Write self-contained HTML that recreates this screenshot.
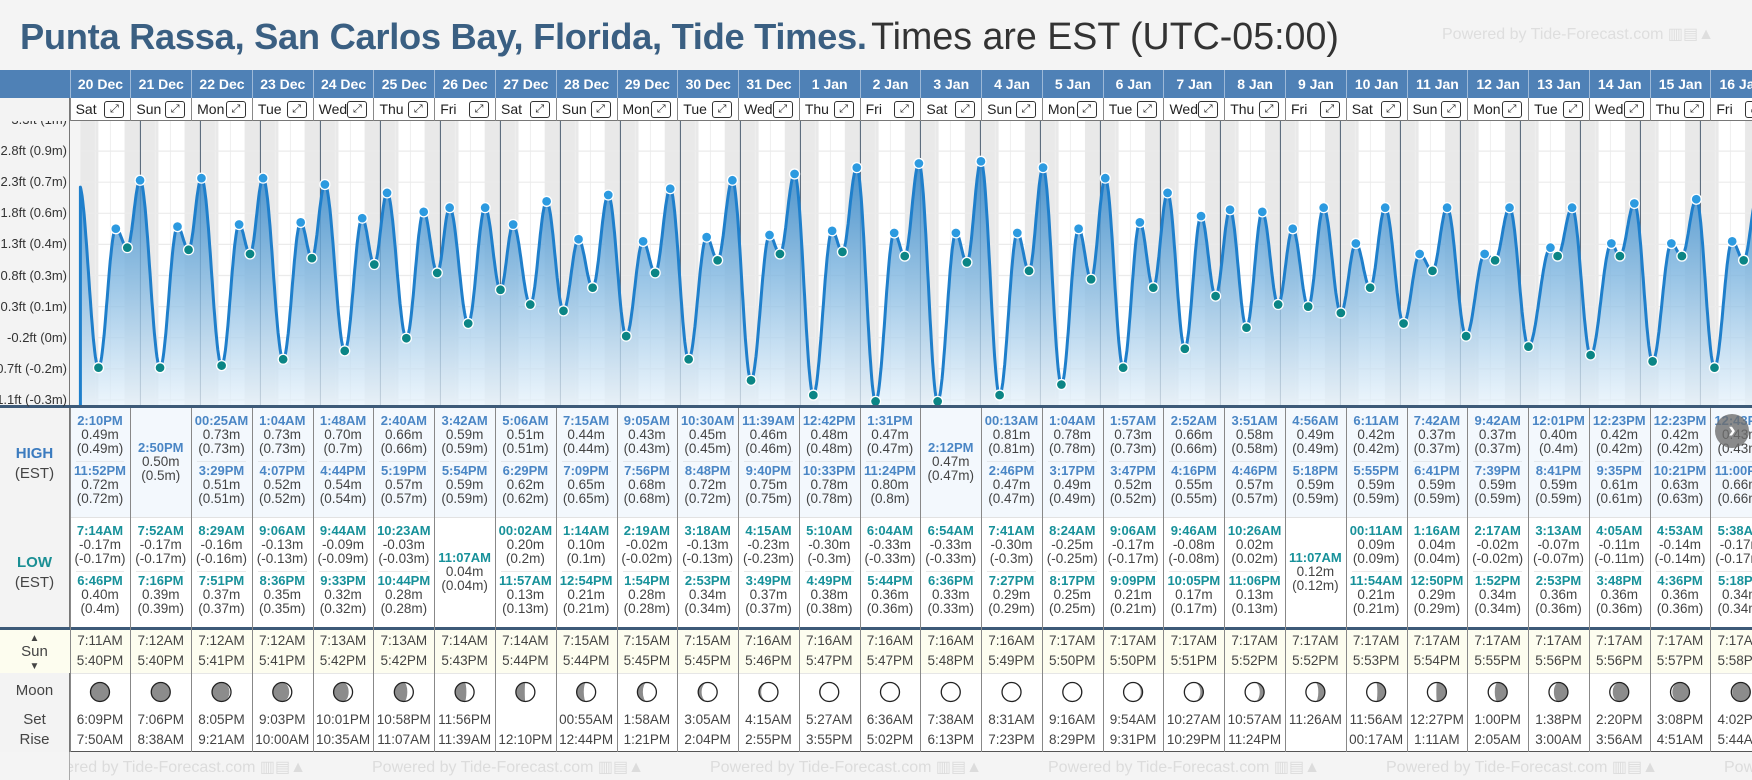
<!DOCTYPE html>
<html><head><meta charset="utf-8">
<style>
body{margin:0;width:1752px;height:780px;overflow:hidden;background:#f4f4f4;font-family:"Liberation Sans",sans-serif;position:relative}
.a{position:absolute;white-space:nowrap}
#root{position:absolute;left:0;top:0;width:1752px;height:780px;overflow:hidden}
</style></head>
<body>
<div id="root"></div>
<div class="a" style="left:20px;top:12px;line-height:48px"><b style="color:#3a5f82;font-size:36.3px;letter-spacing:-0.3px">Punta Rassa, San Carlos Bay, Florida, Tide Times.</b> <span style="color:#333;font-size:37.6px">Times are EST (UTC-05:00)</span></div>
<div class="a" style="left:1442px;top:24px;font-size:16px;color:#dedede">Powered by Tide-Forecast.com ▥▤▲</div>
<svg id="chart" class="a" style="left:0;top:0" width="1752" height="780"></svg>
<script>
const days=['20 Dec','21 Dec','22 Dec','23 Dec','24 Dec','25 Dec','26 Dec','27 Dec','28 Dec','29 Dec','30 Dec','31 Dec','1 Jan','2 Jan','3 Jan','4 Jan','5 Jan','6 Jan','7 Jan','8 Jan','9 Jan','10 Jan','11 Jan','12 Jan','13 Jan','14 Jan','15 Jan','16 Jan'];
const dows=['Sat','Sun','Mon','Tue','Wed','Thu','Fri','Sat','Sun','Mon','Tue','Wed','Thu','Fri','Sat','Sun','Mon','Tue','Wed','Thu','Fri','Sat','Sun','Mon','Tue','Wed','Thu','Fri'];
const highTimes=[['2:10PM','11:52PM'],['2:50PM'],['00:25AM','3:29PM'],['1:04AM','4:07PM'],['1:48AM','4:44PM'],['2:40AM','5:19PM'],['3:42AM','5:54PM'],['5:06AM','6:29PM'],['7:15AM','7:09PM'],['9:05AM','7:56PM'],['10:30AM','8:48PM'],['11:39AM','9:40PM'],['12:42PM','10:33PM'],['1:31PM','11:24PM'],['2:12PM'],['00:13AM','2:46PM'],['1:04AM','3:17PM'],['1:57AM','3:47PM'],['2:52AM','4:16PM'],['3:51AM','4:46PM'],['4:56AM','5:18PM'],['6:11AM','5:55PM'],['7:42AM','6:41PM'],['9:42AM','7:39PM'],['12:01PM','8:41PM'],['12:23PM','9:35PM'],['12:23PM','10:21PM'],['12:43PM','11:00PM']];
const highVals=[[0.49,0.72],[0.50],[0.73,0.51],[0.73,0.52],[0.70,0.54],[0.66,0.57],[0.59,0.59],[0.51,0.62],[0.44,0.65],[0.43,0.68],[0.45,0.72],[0.46,0.75],[0.48,0.78],[0.47,0.80],[0.47],[0.81,0.47],[0.78,0.49],[0.73,0.52],[0.66,0.55],[0.58,0.57],[0.49,0.59],[0.42,0.59],[0.37,0.59],[0.37,0.59],[0.40,0.59],[0.42,0.61],[0.42,0.63],[0.43,0.66]];
const lowTimes=[['7:14AM','6:46PM'],['7:52AM','7:16PM'],['8:29AM','7:51PM'],['9:06AM','8:36PM'],['9:44AM','9:33PM'],['10:23AM','10:44PM'],['11:07AM'],['00:02AM','11:57AM'],['1:14AM','12:54PM'],['2:19AM','1:54PM'],['3:18AM','2:53PM'],['4:15AM','3:49PM'],['5:10AM','4:49PM'],['6:04AM','5:44PM'],['6:54AM','6:36PM'],['7:41AM','7:27PM'],['8:24AM','8:17PM'],['9:06AM','9:09PM'],['9:46AM','10:05PM'],['10:26AM','11:06PM'],['11:07AM'],['00:11AM','11:54AM'],['1:16AM','12:50PM'],['2:17AM','1:52PM'],['3:13AM','2:53PM'],['4:05AM','3:48PM'],['4:53AM','4:36PM'],['5:38AM','5:18PM']];
const lowVals=[[-0.17,0.40],[-0.17,0.39],[-0.16,0.37],[-0.13,0.35],[-0.09,0.32],[-0.03,0.28],[0.04],[0.20,0.13],[0.10,0.21],[-0.02,0.28],[-0.13,0.34],[-0.23,0.37],[-0.30,0.38],[-0.33,0.36],[-0.33,0.33],[-0.30,0.29],[-0.25,0.25],[-0.17,0.21],[-0.08,0.17],[0.02,0.13],[0.12],[0.09,0.21],[0.04,0.29],[-0.02,0.34],[-0.07,0.36],[-0.11,0.36],[-0.14,0.36],[-0.17,0.34]];
const edgeTimes=[-0.6,678.3];
const edgeVals=[0.70,-0.17];
const sunRise=['7:11AM','7:12AM','7:12AM','7:12AM','7:13AM','7:13AM','7:14AM','7:14AM','7:15AM','7:15AM','7:15AM','7:16AM','7:16AM','7:16AM','7:16AM','7:16AM','7:17AM','7:17AM','7:17AM','7:17AM','7:17AM','7:17AM','7:17AM','7:17AM','7:17AM','7:17AM','7:17AM','7:17AM'];
const sunSet=['5:40PM','5:40PM','5:41PM','5:41PM','5:42PM','5:42PM','5:43PM','5:44PM','5:44PM','5:45PM','5:45PM','5:46PM','5:47PM','5:47PM','5:48PM','5:49PM','5:50PM','5:50PM','5:51PM','5:52PM','5:52PM','5:53PM','5:54PM','5:55PM','5:56PM','5:56PM','5:57PM','5:58PM'];
const moonSet=['6:09PM','7:06PM','8:05PM','9:03PM','10:01PM','10:58PM','11:56PM','','00:55AM','1:58AM','3:05AM','4:15AM','5:27AM','6:36AM','7:38AM','8:31AM','9:16AM','9:54AM','10:27AM','10:57AM','11:26AM','11:56AM','12:27PM','1:00PM','1:38PM','2:20PM','3:08PM','4:02PM'];
const moonRise=['7:50AM','8:38AM','9:21AM','10:00AM','10:35AM','11:07AM','11:39AM','12:10PM','12:44PM','1:21PM','2:04PM','2:55PM','3:55PM','5:02PM','6:13PM','7:23PM','8:29PM','9:31PM','10:29PM','11:24PM','','00:17AM','1:11AM','2:05AM','3:00AM','3:56AM','4:51AM','5:44AM'];
const moonPhase=[0.02,0.05,0.09,0.12,0.15,0.19,0.22,0.26,0.29,0.32,0.36,0.39,0.43,0.46,0.50,0.53,0.56,0.60,0.63,0.66,0.70,0.73,0.76,0.80,0.83,0.87,0.90,0.93];
const tickLabels=['3.3ft (1m)','2.8ft (0.9m)','2.3ft (0.7m)','1.8ft (0.6m)','1.3ft (0.4m)','0.8ft (0.3m)','0.3ft (0.1m)','-0.2ft (0m)','-0.7ft (-0.2m)','-1.1ft (-0.3m)'];
const tickVals=[3.3,2.8,2.3,1.8,1.3,0.8,0.3,-0.2,-0.7,-1.2];

const root=document.getElementById('root');
const svg=document.getElementById('chart');
const NS='http://www.w3.org/2000/svg';
const X0=69.6,CW=60.77,CH_L=69.5,CH_T=121,CH_B=405,CH_R=1752;
const colX=i=>X0+i*CW;
const tX=h=>80.4+h/24*60;
const yM=m=>331.9-210.6*m;
const yTick=ft=>337.7-(ft+0.2)*62.2;
function parseT(s){const m=s.match(/(\d+):(\d+)(AM|PM)/);let h=+m[1]%12;if(m[3]=='PM')h+=12;return h+ +m[2]/60;}
function fmt(v){return v.toFixed(2)+'m';}
function fmt2(v){return '('+parseFloat(v.toFixed(2))+'m)';}
function div(name,inter,css,html){const d=document.createElement('div');d.className='a';d.setAttribute('style',css);d.innerHTML=html||'';


root.appendChild(d);return d;}
function el(tag,attrs,parent){const e=document.createElementNS(NS,tag);for(const k in attrs)e.setAttribute(k,attrs[k]);(parent||svg).appendChild(e);return e;}

div('header-bar','false','left:0;top:70px;width:1752px;height:28px;background:#4f81b6');
div('day-row','false','left:0;top:98px;width:1752px;height:23px;background:#fff;border-bottom:1px solid #777;box-sizing:border-box');
div('label-column','false','left:0;top:98px;width:69px;height:654px;background:#f3f3f3;border-right:1px solid #777');
div('high-section','false','left:70px;top:408px;width:1682px;height:109px;background:#f3f8fd');
div('low-section','false','left:70px;top:517px;width:1682px;height:110px;background:#fff;border-top:1px solid #e2e2e2');
div('sun-row','false','left:0;top:627px;width:1752px;height:46px;background:#fdfdef;border-top:3px solid #3d5a78;box-sizing:border-box');
div('moon-row','false','left:70px;top:673px;width:1682px;height:79px;background:#fff;border-top:1px solid #e6e6e6;border-bottom:1px solid #555;box-sizing:border-box');
div('chart-bottom-line','false','left:0;top:405px;width:1752px;height:3px;background:#3d5a78');

div('high-label','false','left:0;top:444px;width:69px;font-size:15px;text-align:center;line-height:20px','<b style="color:#3b7bbf">HIGH</b><br><span style="color:#444">(EST)</span>');
div('low-label','false','left:0;top:553px;width:69px;font-size:15px;text-align:center;line-height:20px','<b style="color:#1a8f94">LOW</b><br><span style="color:#444">(EST)</span>');
div('sun-label','false','left:0;top:630px;width:69px;font-size:15px;text-align:center;line-height:13px;color:#444','<span style="font-size:10px">▲</span><br>Sun<br><span style="font-size:10px">▼</span>');
div('moon-label','false','left:0;top:682px;width:69px;font-size:15px;text-align:center;color:#444','Moon');
div('set-label','false','left:0;top:711px;width:69px;font-size:15px;text-align:center;color:#444','Set');
div('rise-label','false','left:0;top:731px;width:69px;font-size:15px;text-align:center;color:#444','Rise');

for(let k=0;k<6;k++){div('powered-by-footer','false','left:'+(34+k*338)+'px;top:757px;font-size:16px;color:#dcdcdc','Powered by Tide-Forecast.com ▥▤▲');}
div('footer-left-mask','false','left:0;top:752px;width:69px;height:28px;background:#f4f4f4;border-right:1px solid #aaa');

tickLabels.forEach((t,i)=>{const y=yTick(tickVals[i]);if(y<125)return;
div('y-tick-label','false','right:1685px;top:'+(y-8)+'px;font-size:13px;line-height:16px;color:#333',t);});
div('y-tick-label-top','false','right:1685px;top:121px;height:6px;overflow:hidden;font-size:13px;line-height:16px;color:#333;text-align:right','<div style="margin-top:-9px">'+tickLabels[0]+'</div>');

days.forEach((d,i)=>{
  const x=colX(i);
  div('date-header','false','left:'+x+'px;top:70px;width:'+CW+'px;height:28px;line-height:28px;color:#fff;font-weight:bold;font-size:14px;text-align:center;border-left:1px solid #9db9d8;box-sizing:border-box',d);
  div('day-name','false','left:'+(x+6)+'px;top:101px;font-size:14px;line-height:17px;color:#222',dows[i]);
  div('expand-day-button','true','left:'+(x+CW-26)+'px;top:101px;width:20px;height:17px;border:1px solid #333;border-radius:3px;box-sizing:border-box;font-size:11px;line-height:15px;text-align:center;color:#222;background:#fff','⤢');
  div('column-border','false','left:'+x+'px;top:98px;width:1px;height:23px;background:#888');
  div('column-border','false','left:'+x+'px;top:408px;width:1px;height:344px;background:#888');
  const hs=highTimes[i];
  hs.forEach((t,j)=>{
    const top=hs.length==1?441:(j==0?414:464);
    div('high-tide-entry','false','left:'+x+'px;top:'+top+'px;width:'+CW+'px;text-align:center;line-height:14px;font-size:13.5px;color:#444','<b style="color:#4a86c5;font-size:13px">'+t+'</b><br>'+fmt(highVals[i][j])+'<br>'+fmt2(highVals[i][j]));
  });
  if(hs.length==2)div('entry-divider','false','left:'+(x+6)+'px;top:461px;width:'+(CW-12)+'px;height:1px;background:#e4e8ec');
  const ls=lowTimes[i];
  ls.forEach((t,j)=>{
    const top=ls.length==1?551:(j==0?524:574);
    div('low-tide-entry','false','left:'+x+'px;top:'+top+'px;width:'+CW+'px;text-align:center;line-height:14px;font-size:13.5px;color:#444','<b style="color:#17919a;font-size:13px">'+t+'</b><br>'+fmt(lowVals[i][j])+'<br>'+fmt2(lowVals[i][j]));
  });
  if(ls.length==2)div('entry-divider','false','left:'+(x+6)+'px;top:571px;width:'+(CW-12)+'px;height:1px;background:#e8e8e8');
  div('sunrise-time','false','left:'+x+'px;top:633px;width:'+CW+'px;text-align:center;font-size:13.5px;color:#444',sunRise[i]);
  div('sunset-time','false','left:'+x+'px;top:653px;width:'+CW+'px;text-align:center;font-size:13.5px;color:#444',sunSet[i]);
  if(moonSet[i])div('moonset-time','false','left:'+x+'px;top:712px;width:'+CW+'px;text-align:center;font-size:13.5px;color:#444',moonSet[i]);
  if(moonRise[i])div('moonrise-time','false','left:'+x+'px;top:732px;width:'+CW+'px;text-align:center;font-size:13.5px;color:#444',moonRise[i]);
});
div('next-arrow-button','true','left:1715px;top:414px;width:34px;height:34px;border-radius:17px;background:rgba(110,110,110,0.8);color:#fff;font-size:22px;line-height:32px;text-align:center;font-weight:bold','›');

const defs=el('defs',{});
const cp=el('clipPath',{id:'cp'},defs);el('rect',{x:CH_L,y:CH_T,width:CH_R-CH_L,height:CH_B-CH_T},cp);
const lg=el('linearGradient',{id:'fill',x1:0,y1:150,x2:0,y2:405,gradientUnits:'userSpaceOnUse'},defs);
el('stop',{offset:'0','stop-color':'#2f82c4','stop-opacity':'0.92'},lg);
el('stop',{offset:'0.5','stop-color':'#7fb6e0','stop-opacity':'0.8'},lg);
el('stop',{offset:'1','stop-color':'#e6f2fb','stop-opacity':'0.75'},lg);
const g=el('g',{'clip-path':'url(#cp)'});


el('rect',{x:CH_L,y:CH_T,width:CH_R-CH_L,height:CH_B-CH_T,fill:'#f4f4f4'},g);
el('rect',{x:tX(0),y:CH_T,width:CH_R,height:CH_B-CH_T,fill:'#fff'},g);
for(let d=0;d<=days.length;d++){
  const rise=tX(d*24+parseT(sunRise[Math.min(d,days.length-1)]));
  const setPrev=d==0?tX(0):tX((d-1)*24+parseT(sunSet[d-1]));
  const r=el('rect',{x:setPrev,y:CH_T,width:rise-setPrev,height:CH_B-CH_T,fill:'#e9e9e9'},g);
  
  
  for(let h=6;h<=18;h+=6)el('line',{x1:tX(d*24+h),x2:tX(d*24+h),y1:CH_T,y2:CH_B,stroke:'#eeeeee','stroke-width':1},g);
}
tickVals.forEach(v=>{const y=yTick(v);el('line',{x1:tX(0),x2:CH_R,y1:y,y2:y,stroke:'#ebebeb','stroke-width':1.2},g);});
for(let d=1;d<=days.length;d++){const l=el('line',{x1:tX(d*24),x2:tX(d*24),y1:CH_T,y2:CH_B,stroke:'#4d5f72','stroke-width':1},g);

}
const ext=[];
ext.push({t:edgeTimes[0],v:edgeVals[0],k:'e'});
days.forEach((d,i)=>{highTimes[i].forEach((t,j)=>ext.push({t:i*24+parseT(t),v:highVals[i][j],k:'h'}));lowTimes[i].forEach((t,j)=>ext.push({t:i*24+parseT(t),v:lowVals[i][j],k:'l'}));});
ext.push({t:edgeTimes[1],v:edgeVals[1],k:'e'});
ext.sort((a,b)=>a.t-b.t);
const pts=[];
for(let i=0;i<ext.length-1;i++){const a=ext[i],b=ext[i+1];const n=Math.max(4,Math.round((b.t-a.t)*4));
for(let s=0;s<n;s++){const f=s/n;const t=a.t+(b.t-a.t)*f;if(t<0)continue;const v=a.v+(b.v-a.v)*(1-Math.cos(Math.PI*f))/2;pts.push([tX(t),yM(v)]);}}
const lastE=ext[ext.length-1];pts.push([tX(lastE.t),yM(lastE.v)]);
const a0=ext[0],b0=ext[1];const f0=(0-a0.t)/(b0.t-a0.t);pts.unshift([tX(0),yM(a0.v+(b0.v-a0.v)*(1-Math.cos(Math.PI*f0))/2)]);
let dl='M'+pts.map(p=>p[0].toFixed(1)+','+p[1].toFixed(1)).join('L');
const area=el('path',{d:dl+'L'+pts[pts.length-1][0].toFixed(1)+','+CH_B+'L'+tX(0)+','+CH_B+'Z',fill:'url(#fill)'},g);


const line=el('path',{d:'M'+tX(0)+','+CH_B+'L'+dl.slice(1),fill:'none',stroke:'#1f7fcb','stroke-width':3,'stroke-linejoin':'round'},g);


ext.forEach(e=>{if(e.k=='e')return;const c=el('circle',{cx:tX(e.t),cy:yM(e.v),r:5,fill:e.k=='h'?'#2c9ae0':'#0b8585',stroke:'#fff','stroke-width':1.3},g);

});
el('line',{x1:CH_L,x2:CH_L,y1:CH_T,y2:CH_B,stroke:'#777','stroke-width':1});

moonPhase.forEach((p,i)=>{
  const cx=colX(i)+CW/2,cy=692,r=9.5;
  if(cx>1760)return;
  const grp=el('g',{});
  
  
  el('circle',{cx:cx,cy:cy,r:r,fill:'#8c8c8c'},grp);
  const k=(1-Math.cos(2*Math.PI*p))/2;const rx=Math.abs(1-2*k)*r;
  const right=p<0.5; const s1=right?1:0;
  const sweep2=(k>0.5)?s1:1-s1;
  el('path',{d:`M${cx},${cy-r}A${r},${r} 0 0 ${s1} ${cx},${cy+r}A${rx},${r} 0 0 ${sweep2} ${cx},${cy-r}Z`,fill:'#fff'},grp);
  el('circle',{cx:cx,cy:cy,r:r,fill:'none',stroke:'#222','stroke-width':1.3},grp);
});
</script>
</body></html>
